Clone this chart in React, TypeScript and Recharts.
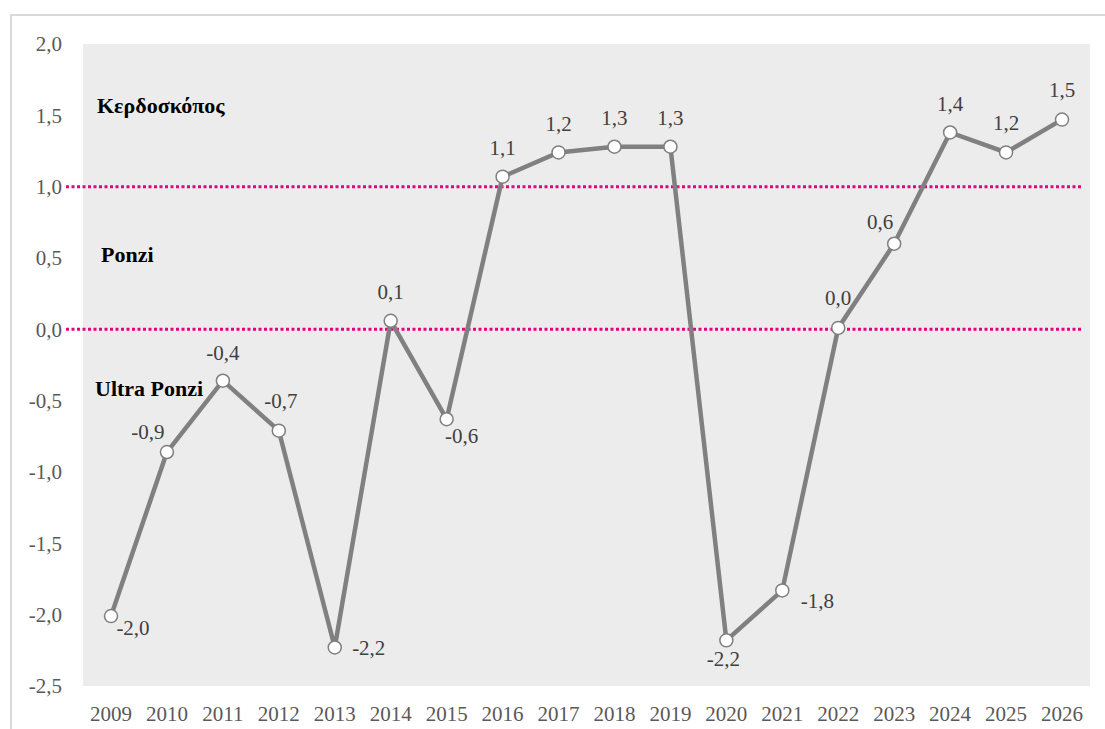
import React from 'react';
import {
  LineChart,
  Line,
  XAxis,
  YAxis,
  CartesianGrid,
  ReferenceLine,
  LabelList,
} from 'recharts';

const years = [
  '2009', '2010', '2011', '2012', '2013', '2014', '2015', '2016', '2017',
  '2018', '2019', '2020', '2021', '2022', '2023', '2024', '2025', '2026',
];
const values = [
  -2.01, -0.86, -0.36, -0.71, -2.23, 0.06, -0.63, 1.07, 1.24,
  1.28, 1.28, -2.18, -1.83, 0.01, 0.6, 1.38, 1.24, 1.47,
];
const yTicks = [-2.5, -2, -1.5, -1, -0.5, 0, 0.5, 1, 1.5, 2];
const thresholds = [1, 0];
const zoneNames = ['Κερδοσκόπος', 'Ponzi', 'Ultra Ponzi'];
const zoneLevels = [1.57, 0.53, -0.41];

// label nudges (dx, dy) relative to each marker
const labelOffsets: [number, number][] = [
  [22, 12], [-19, -20], [0, -28], [2, -30], [34, 1], [0, -29], [15, 17],
  [0, -29], [0, -28], [0, -29], [0, -29], [-3, 19], [35, 11], [0, -30],
  [-14, -22], [0, -28], [0, -29], [0, -30],
];
const zoneInsets = [14, 18, 12];

const FONT = '"Liberation Serif", serif';
const fmt = (v: number) => v.toFixed(1).replace('.', ',');

const data = years.map((year, i) => ({ year, value: values[i] }));

function PointLabel(props: any) {
  const { x, y, index, value } = props;
  const [dx, dy] = labelOffsets[index] || [0, -28];
  return (
    <text
      x={x + dx}
      y={y + dy}
      textAnchor="middle"
      dominantBaseline="central"
      fill="#404040"
      fontSize={21}
      fontFamily={FONT}
    >
      {fmt(value)}
    </text>
  );
}

function DottedLine(props: any) {
  const { x1, y1, x2, y2 } = props;
  return (
    <line
      x1={x1 - 17}
      y1={y1}
      x2={x2 - 7}
      y2={y2}
      stroke="#e6007e"
      strokeWidth={3}
      strokeDasharray="3 2.5"
    />
  );
}

export default function App() {
  return (
    <div
      style={{
        position: 'absolute',
        left: 0,
        top: 0,
        width: 1105,
        height: 729,
        overflow: 'hidden',
        background: '#fff',
      }}
    >
      <div
        style={{
          position: 'absolute',
          left: 10,
          top: 14,
          width: 1200,
          height: 800,
          border: '2px solid #d9d9d9',
        }}
      />
      <div style={{ position: 'absolute', left: 0, top: 0 }}>
        <LineChart
          width={1105}
          height={729}
          data={data}
          margin={{ top: 44, right: 15, left: 0, bottom: 0 }}
        >
          <CartesianGrid fill="#ececec" horizontal={false} vertical={false} />
          <XAxis
            dataKey="year"
            height={43}
            padding={{ left: 28, right: 28 }}
            axisLine={false}
            tickLine={false}
            tickSize={0}
            tickMargin={20}
            interval={0}
            tick={{ fill: '#595959', fontSize: 21, fontFamily: FONT }}
          />
          <YAxis
            width={83}
            domain={[-2.5, 2]}
            ticks={yTicks}
            interval={0}
            axisLine={false}
            tickLine={false}
            tickSize={0}
            tickMargin={21}
            tickFormatter={fmt}
            tick={{ fill: '#595959', fontSize: 21, fontFamily: FONT }}
          />
          {thresholds.map((t) => (
            <ReferenceLine key={t} y={t} shape={DottedLine} />
          ))}
          {zoneNames.map((name, i) => (
            <ReferenceLine
              key={name}
              y={zoneLevels[i]}
              stroke="none"
              label={{
                value: name,
                position: 'insideLeft',
                offset: zoneInsets[i],
                fill: '#000',
                fontSize: 22,
                fontWeight: 700,
                fontFamily: FONT,
              }}
            />
          ))}
          <Line
            type="linear"
            dataKey="value"
            stroke="#808080"
            strokeWidth={4.5}
            dot={{ r: 6.5, fill: '#fff', stroke: '#7f7f7f', strokeWidth: 1.5 }}
            isAnimationActive={false}
          >
            <LabelList dataKey="value" content={PointLabel} />
          </Line>
        </LineChart>
      </div>
    </div>
  );
}
